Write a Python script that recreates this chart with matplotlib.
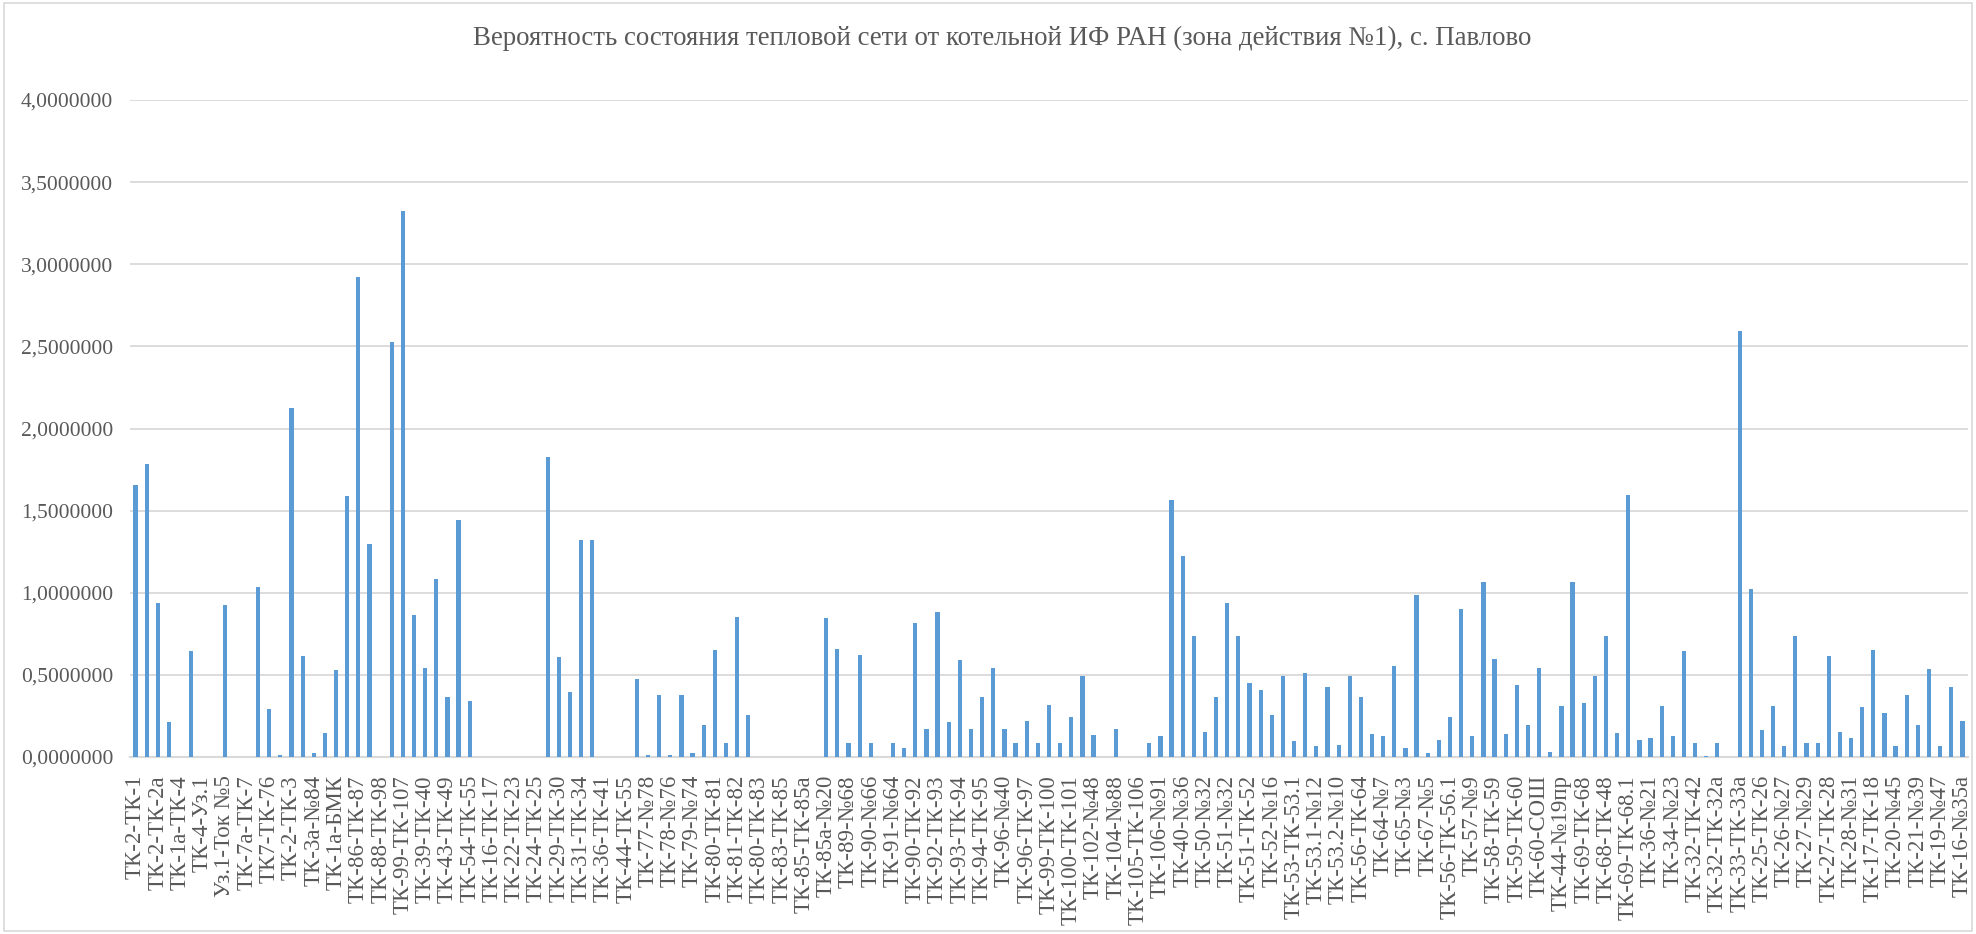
import matplotlib
matplotlib.use("Agg")
import matplotlib.pyplot as plt
from matplotlib.patches import Rectangle
from matplotlib.ticker import FuncFormatter
import numpy as np

plt.rcParams['font.family'] = ['Liberation Serif', 'DejaVu Serif']

title = "Вероятность состояния тепловой сети от котельной ИФ РАН (зона действия №1), с. Павлово"

# every second category is labelled on the axis (as in the original)
labels = [
    "ТК-2-ТК-1", "ТК-2-ТК-2а", "ТК-1а-ТК-4", "ТК-4-Уз.1", "Уз.1-Ток №5",
    "ТК-7а-ТК-7", "ТК7-ТК-76", "ТК-2-ТК-3", "ТК-3а-№84", "ТК-1а-БМК",
    "ТК-86-ТК-87", "ТК-88-ТК-98", "ТК-99-ТК-107", "ТК-39-ТК-40", "ТК-43-ТК-49",
    "ТК-54-ТК-55", "ТК-16-ТК-17", "ТК-22-ТК-23", "ТК-24-ТК-25", "ТК-29-ТК-30",
    "ТК-31-ТК-34", "ТК-36-ТК-41", "ТК-44-ТК-55", "ТК-77-№78", "ТК-78-№76",
    "ТК-79-№74", "ТК-80-ТК-81", "ТК-81-ТК-82", "ТК-80-ТК-83", "ТК-83-ТК-85",
    "ТК-85-ТК-85а", "ТК-85а-№20", "ТК-89-№68", "ТК-90-№66", "ТК-91-№64",
    "ТК-90-ТК-92", "ТК-92-ТК-93", "ТК-93-ТК-94", "ТК-94-ТК-95", "ТК-96-№40",
    "ТК-96-ТК-97", "ТК-99-ТК-100", "ТК-100-ТК-101", "ТК-102-№48", "ТК-104-№88",
    "ТК-105-ТК-106", "ТК-106-№91", "ТК-40-№36", "ТК-50-№32", "ТК-51-№32",
    "ТК-51-ТК-52", "ТК-52-№16", "ТК-53-ТК-53.1", "ТК-53.1-№12", "ТК-53.2-№10",
    "ТК-56-ТК-64", "ТК-64-№7", "ТК-65-№3", "ТК-67-№5", "ТК-56-ТК-56.1",
    "ТК-57-№9", "ТК-58-ТК-59", "ТК-59-ТК-60", "ТК-60-СОШ", "ТК-44-№19пр",
    "ТК-69-ТК-68", "ТК-68-ТК-48", "ТК-69-ТК-68.1", "ТК-36-№21", "ТК-34-№23",
    "ТК-32-ТК-42", "ТК-32-ТК-32а", "ТК-33-ТК-33а", "ТК-25-ТК-26", "ТК-26-№27",
    "ТК-27-№29", "ТК-27-ТК-28", "ТК-28-№31", "ТК-17-ТК-18", "ТК-20-№45",
    "ТК-21-№39", "ТК-19-№47", "ТК-16-№35а",
]

values = [
    1.658, 1.785, 0.936, 0.215, 0.0, 0.644, 0.0, 0.0, 0.925, 0.0,
    0.0, 1.032, 0.292, 0.014, 2.126, 0.614, 0.025, 0.146, 0.530, 1.591,
    2.920, 1.295, 0.0, 2.525, 3.326, 0.863, 0.541, 1.082, 0.365, 1.445,
    0.340, 0.0, 0.0, 0.0, 0.0, 0.0, 0.0, 1.826, 0.607, 0.395,
    1.324, 1.324, 0.0, 0.0, 0.0, 0.475, 0.014, 0.377, 0.014, 0.377,
    0.025, 0.196, 0.651, 0.087, 0.852, 0.256, 0.0, 0.0, 0.0, 0.0,
    0.0, 0.0, 0.845, 0.658, 0.087, 0.621, 0.087, 0.0, 0.087, 0.055,
    0.815, 0.171, 0.881, 0.215, 0.589, 0.171, 0.365, 0.541, 0.171, 0.087,
    0.219, 0.087, 0.317, 0.087, 0.244, 0.493, 0.135, 0.0, 0.171, 0.0,
    0.0, 0.087, 0.128, 1.562, 1.226, 0.735, 0.153, 0.365, 0.936, 0.735,
    0.450, 0.409, 0.256, 0.493, 0.098, 0.511, 0.068, 0.427, 0.073, 0.493,
    0.365, 0.142, 0.128, 0.553, 0.055, 0.984, 0.025, 0.105, 0.244, 0.900,
    0.128, 1.068, 0.596, 0.142, 0.438, 0.196, 0.541, 0.032, 0.311, 1.064,
    0.329, 0.493, 0.735, 0.146, 1.598, 0.105, 0.116, 0.311, 0.128, 0.644,
    0.087, 0.007, 0.087, 0.0, 2.591, 1.021, 0.164, 0.311, 0.068, 0.735,
    0.087, 0.087, 0.614, 0.153, 0.116, 0.304, 0.651, 0.267, 0.068, 0.377,
    0.196, 0.534, 0.068, 0.427, 0.219,
]

W, H = 1976, 934
fig = plt.figure(figsize=(W / 100, H / 100), dpi=100)
fig.patches.append(Rectangle((4 / W, 3 / H), 1 - 8 / W, 1 - 6 / H,
                             transform=fig.transFigure, fill=False,
                             edgecolor="#D9D9D9", linewidth=1.2))

ax = fig.add_axes([130 / W, (H - 757) / H, 1838 / W, 657 / H])

x = np.arange(len(values))
ax.bar(x, values, width=0.38, color="#5B9BD5", zorder=3)

ax.set_xlim(-0.5, len(values) - 0.5)
ax.set_ylim(0, 4.0)
ax.set_yticks(np.arange(0, 4.01, 0.5))
ax.yaxis.set_major_formatter(FuncFormatter(lambda v, p: f"{v:.7f}".replace(".", ",")))
ax.grid(axis="y", color="#D9D9D9", linewidth=1.3, zorder=0)

ax.set_xticks(x[::2])
ax.set_xticklabels(labels, rotation=90, ha="center", va="top")

for s in ["top", "right", "left"]:
    ax.spines[s].set_visible(False)
ax.spines["bottom"].set_color("#D9D9D9")
ax.spines["bottom"].set_linewidth(1.5)

ax.tick_params(axis="both", length=0, colors="#595959")
ax.tick_params(axis="y", pad=12, labelsize=15.5)
ax.tick_params(axis="x", pad=13, labelsize=16.5)

fig.text(1002 / W, 1 - 38 / H, title, ha="center", va="center",
         fontsize=19.4, color="#595959")

fig.savefig("out.png", dpi=100)
